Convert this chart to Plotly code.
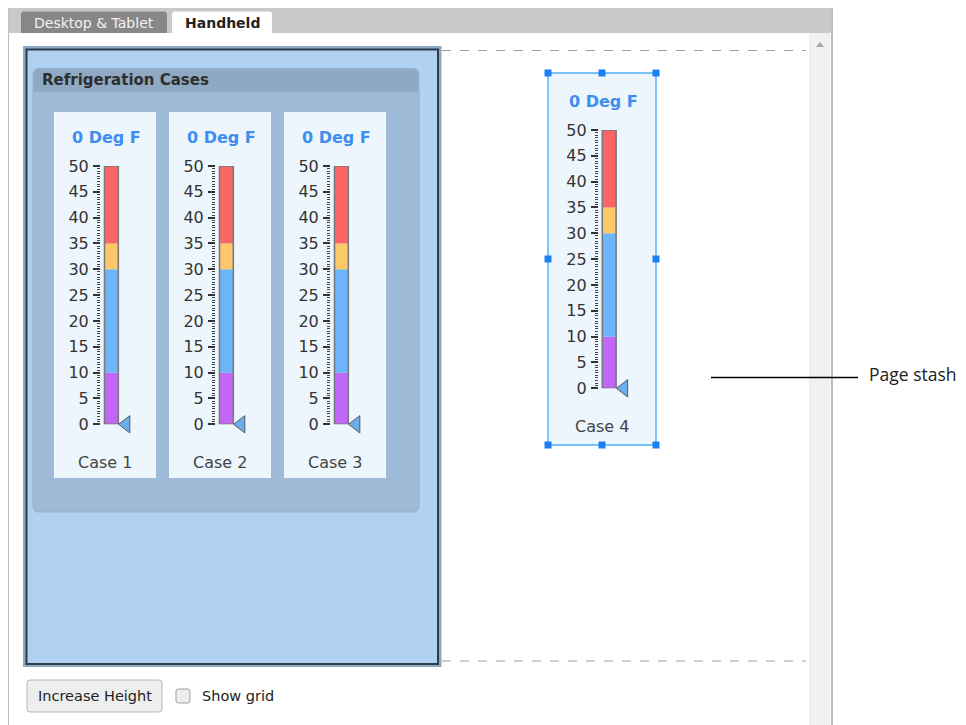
import plotly.graph_objects as go

# ---------------- data ----------------
case_names = ["Case 1", "Case 2", "Case 3", "Case 4"]
readings = [0, 0, 0, 0]
reading_unit = "Deg F"
band_low = [0, 10, 30, 35]
band_high = [10, 30, 35, 50]
band_colors = ["#c266f7", "#6cb5fa", "#fdc86a", "#fb6565"]
scale_min = 0
scale_max = 50
major_step = 5
minor_step = 0.5
group_title = "Refrigeration Cases"
tab_labels = ["Desktop & Tablet", "Handheld"]
button_label = "Increase Height"
checkbox_label = "Show grid"
callout_label = "Page stash"

# ---------------- layout helpers ----------------
W, H = 966, 725
FONT = "DejaVu Sans"
OFF = 8  # page body margin: the figure starts 8px in from the window corner


def px(x):
    return (x - OFF) / W


def py(y):
    return 1 - (y - OFF) / H


shapes = []
annotations = []


def rect(x0, y0, x1, y1, fill="rgba(0,0,0,0)", line="rgba(0,0,0,0)", width=0, dash=None, layer="below"):
    ln = dict(color=line, width=width)
    if dash:
        ln["dash"] = dash
    shapes.append(dict(type="rect", xref="paper", yref="paper",
                       x0=px(x0), x1=px(x1), y0=py(y0), y1=py(y1),
                       fillcolor=fill, line=ln, layer=layer))


def line(x0, y0, x1, y1, color, width=1, dash=None, layer="below"):
    ln = dict(color=color, width=width)
    if dash:
        ln["dash"] = dash
    shapes.append(dict(type="line", xref="paper", yref="paper",
                       x0=px(x0), x1=px(x1), y0=py(y0), y1=py(y1), line=ln, layer=layer))


def P(x, y):
    return f"{px(x):.6f},{py(y):.6f}"


def rrect(x0, y0, x1, y1, r_top, r_bot, fill, line_color="rgba(0,0,0,0)", width=0, layer="below"):
    d = (f"M {P(x0 + r_top, y0)} L {P(x1 - r_top, y0)} Q {P(x1, y0)} {P(x1, y0 + r_top)} "
         f"L {P(x1, y1 - r_bot)} Q {P(x1, y1)} {P(x1 - r_bot, y1)} "
         f"L {P(x0 + r_bot, y1)} Q {P(x0, y1)} {P(x0, y1 - r_bot)} "
         f"L {P(x0, y0 + r_top)} Q {P(x0, y0)} {P(x0 + r_top, y0)} Z")
    shapes.append(dict(type="path", xref="paper", yref="paper", path=d,
                       fillcolor=fill, line=dict(color=line_color, width=width), layer=layer))


def text(x, y, s, size, color, family=FONT, bold=False, xanchor="center", yanchor="middle"):
    annotations.append(dict(xref="paper", yref="paper", x=px(x), y=py(y),
                            text=f"<b>{s}</b>" if bold else s, showarrow=False,
                            xanchor=xanchor, yanchor=yanchor,
                            font=dict(family=family, size=size, color=color)))


# ---------------- page chrome ----------------
rect(8, 5, 832, 740, fill="#ffffff", line="#a8a8a8", width=1.5)
rect(8.5, 5.5, 831.5, 33, fill="#c9c9c9")
# scrollbar
rect(809, 33, 830.5, 740, fill="#f0f0f0")
shapes.append(dict(type="path", xref="paper", yref="paper",
                   path=f"M {P(816, 47)} L {P(824, 47)} L {P(820, 42)} Z",
                   fillcolor="#a6a6a6", line=dict(width=0), layer="below"))
# tabs
rrect(21, 11.5, 167, 33, 3, 0, "#878787")
rrect(172, 11.5, 272, 33, 3, 0, "#ffffff")
text(94, 22.5, tab_labels[0], 14, "#f2f2f2")
text(222, 22.5, tab_labels[1], 14, "#222222", bold=True)

# dashed page bounds
line(442, 50.5, 806, 50.5, "#a0a0a0", 1.2, dash="dash")
line(442, 661, 806, 661, "#a0a0a0", 1.2, dash="dash")

# main panel
rect(23, 46, 441.5, 667, fill="#8fa8c2")
rect(26.5, 49.5, 438, 664, fill="#b1d1f2", line="#2e3d4c", width=2)

# group box
rrect(33, 68.5, 419, 512, 6, 6, "#9fbad6", "#95b0cd", 1)
rrect(33.5, 69, 418.5, 92, 6, 0, "#8fa9c4")
text(40, 80.5, group_title, 15, "#2e2e2e", bold=True, xanchor="left")

# bottom controls
rrect(27, 680, 162, 712, 3, 3, "#eeeeee", "#b8b8b8", 1)
text(94.5, 696, button_label, 14.5, "#222222")
rrect(176, 689, 190, 703, 2, 2, "#ececec", "#a0a0a0", 1)
text(200, 696, checkbox_label, 14.5, "#222222", xanchor="left")

# page stash callout
line(711, 377.5, 858, 377.5, "#000000", 1.6, layer="above")
text(867, 374, callout_label, 17.5, "#222222", family="Open Sans", xanchor="left")

# ---------------- gauges ----------------
cards = [(54, 112, 156, 478), (169, 112, 271, 478), (284, 112, 386, 478), (548, 73, 656, 445)]
dx = [0, 115, 230, 497.8]
dy = [0, 0, 0, -36]

AX_LEFT, AX_RIGHT = 101, 134
BAR_L, BAR_R = 104.5, 118.3
BAR_TOP, BAR_BOT = 166, 424.3
unit = BAR_R - BAR_L
xr = [-0.5 - (BAR_L - AX_LEFT) / unit, 0.5 + (AX_RIGHT - BAR_R) / unit]
ptr_x = 0.5 + 7.8 / unit

fig = go.Figure()
layout_axes = {}

for i, name in enumerate(case_names):
    cx0, cy0, cx1, cy1 = cards[i]
    rect(cx0, cy0, cx1, cy1, fill="#eef6fd")
    ccx = (cx0 + cx1) / 2 + 1.5
    top = BAR_TOP + dy[i]
    bot = BAR_BOT + dy[i]
    text(ccx, top - 28.5, f"{readings[i]} {reading_unit}", 16, "#3d8eee", bold=True)
    text(ccx - 1.5, bot + 38.5, name, 16, "#444444")

    k = "" if i == 0 else str(i + 1)
    xa, ya = "x" + k, "y" + k
    for lo, hi, col in zip(band_low, band_high, band_colors):
        fig.add_trace(go.Bar(x=[0], y=[hi - lo], base=[lo], width=1,
                             marker=dict(color=col, line=dict(width=0)),
                             xaxis=xa, yaxis=ya, hoverinfo="skip", showlegend=False))
    fig.add_trace(go.Bar(x=[0], y=[max(band_high) - min(band_low)], base=[min(band_low)], width=1,
                         marker=dict(color="rgba(0,0,0,0)", line=dict(color="#7a7a7a", width=1.6)),
                         xaxis=xa, yaxis=ya, hoverinfo="skip", showlegend=False))
    fig.add_trace(go.Scatter(x=[ptr_x], y=[readings[i]], mode="markers",
                             marker=dict(symbol="triangle-left", size=15, color="#6aaef0",
                                         line=dict(color="#5a5a5a", width=1)),
                             cliponaxis=False, xaxis=xa, yaxis=ya,
                             hoverinfo="skip", showlegend=False))

    layout_axes["xaxis" + k] = dict(domain=[px(AX_LEFT + dx[i]), px(AX_RIGHT + dx[i])],
                                    range=xr, visible=False, anchor=ya, fixedrange=True,
                                    automargin=False)
    layout_axes["yaxis" + k] = dict(domain=[py(bot), py(top)], range=[scale_min, scale_max],
                                    anchor=xa, tickmode="linear", tick0=scale_min, dtick=major_step,
                                    ticks="outside", ticklen=7, tickwidth=2, tickcolor="#333333",
                                    minor=dict(dtick=minor_step, ticks="outside", ticklen=3,
                                               tickwidth=1, tickcolor="#444444"),
                                    showgrid=False, zeroline=False, showline=False,
                                    tickfont=dict(family=FONT, size=16, color="#333333"),
                                    ticklabelstandoff=1, fixedrange=True, automargin=False)

# case 4 selection frame + handles
sx0, sy0, sx1, sy1 = cards[3]
rect(sx0, sy0, sx1, sy1, line="#4cb0f8", width=1.4, layer="above")
for hx in (sx0, (sx0 + sx1) / 2, sx1):
    for hy in (sy0, (sy0 + sy1) / 2, sy1):
        if hx == (sx0 + sx1) / 2 and hy == (sy0 + sy1) / 2:
            continue
        rect(hx - 3.5, hy - 3.5, hx + 3.5, hy + 3.5, fill="#1a7ff0", layer="above")

fig.update_layout(width=W, height=H,
                  margin=dict(l=0, r=0, t=0, b=0, pad=0, autoexpand=False),
                  paper_bgcolor="#ffffff", plot_bgcolor="rgba(0,0,0,0)",
                  barmode="overlay", showlegend=False,
                  shapes=shapes, annotations=annotations, **layout_axes)

fig.write_html("out.html", config={"displayModeBar": False})
